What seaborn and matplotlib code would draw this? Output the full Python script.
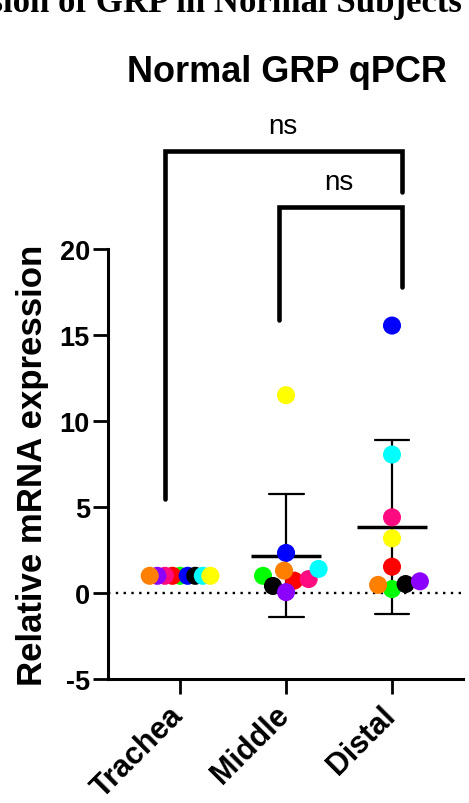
import numpy as np
import pandas as pd
import matplotlib
matplotlib.use("Agg")
import matplotlib.pyplot as plt
import matplotlib.transforms as mtransforms
import seaborn as sns

# ---------------- data ----------------
regions = ["Trachea", "Middle", "Distal"]
subjects = ["S1", "S2", "S3", "S4", "S5", "S6", "S7", "S8", "S9"]
subject_colors = ["#00FF00", "#FF0000", "#0000FF", "#FF0A80", "#000000",
                  "#8C00FF", "#00FFFF", "#FF8000", "#FFFF00"]
trachea = [1.0, 1.0, 1.0, 1.0, 1.0, 1.0, 1.0, 1.0, 1.0]
middle = [1.0, 0.72, 2.33, 0.81, 0.41, 0.05, 1.40, 1.30, 11.5]
distal = [0.23, 1.53, 15.55, 4.40, 0.52, 0.68, 8.05, 0.47, 3.18]

yticks = [-5, 0, 5, 10, 15, 20]
title = "Normal GRP qPCR"
top_title = "Expression of GRP in Normal Subjects"
ylabel = "Relative mRNA expression"
# significance brackets: (left x, right x, left end, right end, top, label y, label x, text)
brackets = [
    (-0.14, 2.09, 5.47, 23.3, 25.7, 26.75, 0.97, "ns"),
    (0.935, 2.09, 15.9, 17.8, 22.45, 23.5, 1.5, "ns"),
]

df = pd.DataFrame({
    "region": np.repeat(regions, len(subjects)),
    "subject": subjects * 3,
    "value": trachea + middle + distal,
})

# ---------------- style ----------------
sns.set_style("ticks")
plt.rcParams["font.family"] = ["Liberation Sans", "DejaVu Sans"]
for key in ("text.color", "axes.labelcolor", "xtick.color", "ytick.color",
            "axes.edgecolor"):
    plt.rcParams[key] = "black"

W, H = 469, 804
fig = plt.figure(figsize=(W / 100, H / 100), dpi=100)
ax_left, ax_right, ax_top, ax_bottom = 108, 463, 250, 680
ax = fig.add_axes([ax_left / W, 1 - ax_bottom / H,
                   (ax_right - ax_left) / W, (ax_bottom - ax_top) / H])

ax.axhline(0, color="black", lw=1.7, linestyle=(0, (1, 2.3)), zorder=1)

sns.pointplot(data=df, x="region", y="value", order=regions, errorbar="sd",
              color="black", marker="_", markersize=50, markeredgewidth=2.5,
              linestyle="none", capsize=0.33, err_kws={"linewidth": 1.6},
              ax=ax, zorder=2)

# swarm layout size per region (points), dots are enlarged afterwards
layout_sizes = {"Trachea": 5.2, "Middle": 10.0, "Distal": 10.0}
swarm_colls = []
for reg in regions:
    n_before = len(ax.collections)
    sns.swarmplot(data=df[df["region"] == reg], x="region", y="value",
                  order=regions, hue="subject", hue_order=subjects,
                  palette=subject_colors, size=layout_sizes[reg],
                  linewidth=0, legend=False, ax=ax, zorder=4)
    swarm_colls += ax.collections[n_before:]

ax.set_xlim(-0.68, 2.67)
ax.set_ylim(-5, 20)
ax.set_yticks(yticks)
ax.set_yticklabels([str(t) for t in yticks])
sns.despine(ax=ax)
for s in ("left", "bottom"):
    ax.spines[s].set_linewidth(2.2)
    ax.spines[s].set_color("black")
ax.tick_params(axis="both", length=11, width=2, color="black",
               labelcolor="black", pad=2)
ax.tick_params(axis="y", labelsize=19.5)
ax.tick_params(axis="x", labelsize=22)
for lab in ax.get_yticklabels():
    lab.set_fontweight("bold")
offset = mtransforms.ScaledTranslation(7 / 72, -2 / 72, fig.dpi_scale_trans)
for lab in ax.get_xticklabels():
    lab.set_fontweight("bold")
    lab.set_rotation(45)
    lab.set_ha("right")
    lab.set_va("top")
    lab.set_transform(lab.get_transform() + offset)

ax.set_xlabel("")
ax.set_ylabel(ylabel, fontsize=25, fontweight="bold", color="black")
ax.yaxis.set_label_coords((49 - ax_left) / (ax_right - ax_left), 0.5)

for x0, x1, y0, y1, ytop, ty, tx, txt in brackets:
    ax.plot([x0, x0, x1, x1], [y0, ytop, ytop, y1], color="black", lw=3.3,
            clip_on=False, solid_capstyle="round", solid_joinstyle="miter",
            zorder=5)
    ax.text(tx, ty, txt, ha="center", va="baseline", fontsize=20,
            color="black", clip_on=False)

fig.text(286.5 / W, 1 - 82 / H, title, ha="center", va="baseline",
         fontsize=26, fontweight="bold", color="black")
fig.text(462 / W, 1 - 12 / H, top_title, ha="right", va="baseline",
         fontsize=25, fontweight="bold", family=["Liberation Serif"],
         color="black")

# lay out the swarms with compact sizes, then enlarge the dots
fig.canvas.draw()
for coll in swarm_colls:
    if "draw" in coll.__dict__:
        del coll.draw
    coll.set_sizes([13.0 ** 2])

fig.savefig("out.png", dpi=100)
